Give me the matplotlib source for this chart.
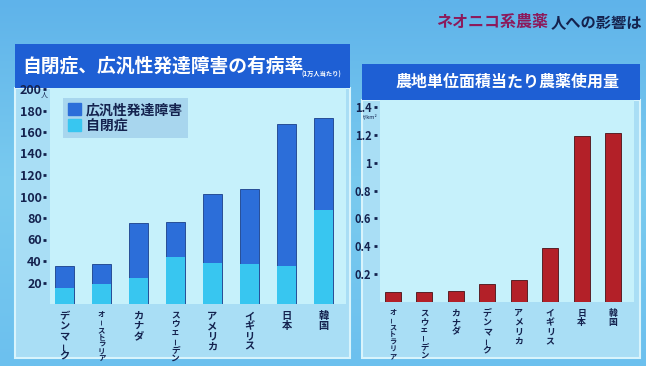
#Recreate the TV chart: autism prevalence vs pesticide use per farmland area
import numpy as np
import matplotlib.pyplot as plt
from matplotlib.patches import Rectangle, Patch
from matplotlib.colors import LinearSegmentedColormap

plt.rcParams['font.family'] = ['Noto Sans CJK JP', 'DejaVu Sans']

# left chart: prevalence per 10,000 people
countries_l = ["デンマーク", "オーストラリア", "カナダ", "スウェーデン", "アメリカ", "イギリス", "日本", "韓国"]
pdd_total = [35, 37, 75, 76, 102, 107, 167, 173]
autism = [15, 19, 24, 44, 38, 37, 35, 87]
yticks_l = [20, 40, 60, 80, 100, 120, 140, 160, 180, 200]

# right chart: pesticide use per farmland area (t/km2)
countries_r = ["オーストラリア", "スウェーデン", "カナダ", "デンマーク", "アメリカ", "イギリス", "日本", "韓国"]
pesticide = [0.07, 0.075, 0.08, 0.13, 0.155, 0.39, 1.19, 1.215]
yticks_r = [0.2, 0.4, 0.6, 0.8, 1.0, 1.2, 1.4]
yticklabels_r = ["0.2", "0.4", "0.6", "0.8", "1", "1.2", "1.4"]

W, H = 646, 366
navy = '#14224e'


def rect(x0, y0, x1, y1):
    # pixel box (top-left origin) -> figure fraction
    return [x0 / W, 1 - y1 / H, (x1 - x0) / W, (y1 - y0) / H]


def vlabels(ax, labels, maxstep, room, maxsize):
    # japanese vertical writing, one char per step, long vowel mark turned upright
    ax.set_xticks(range(len(labels)))
    ax.set_xticklabels([])
    for i, lab in enumerate(labels):
        step = min(maxstep, room / len(lab))
        fs = min(maxsize, step * 0.72 * 1.0)
        for j, ch in enumerate(lab):
            ax.annotate(ch, xy=(i, 0), xycoords=('data', 'axes fraction'),
                        xytext=(0, -(7 + step * (j + 0.5)) * 0.72), textcoords='offset points',
                        ha='center', va='center', rotation=90 if ch == "ー" else 0,
                        fontsize=fs * (0.8 if ch == "ー" else 1), fontweight='bold', color=navy)


fig = plt.figure(figsize=(6.46, 3.66), dpi=100)

# gradient backdrop
bg = fig.add_axes([0, 0, 1, 1], zorder=-10)
grad = np.linspace(0, 1, 256).reshape(-1, 1) * np.ones((1, 4))
cmap = LinearSegmentedColormap.from_list('bg', ['#5fb3ea', '#7acbef', '#6cc0ee'])
bg.imshow(grad, extent=[0, 1, 0, 1], aspect='auto', cmap=cmap)
bg.set_xlim(0, 1)
bg.set_ylim(0, 1)
bg.axis('off')


def box(x0, y0, x1, y1, color, z=-5, **kw):
    r = rect(x0, y0, x1, y1)
    fig.patches.append(Rectangle((r[0], r[1]), r[2], r[3], transform=fig.transFigure,
                                 facecolor=color, zorder=z, **kw))


# left panel
box(15, 88, 350, 358, '#a9def5', edgecolor='#d8f4fc', linewidth=1.5)
box(50, 88, 346, 304, '#c6f1fb')
box(15, 44, 350, 88, '#1e5fd4')
fig.text(22 / W, 1 - 66 / H, "自閉症、広汎性発達障害の有病率", color='white', fontsize=13.5,
         fontweight='bold', va='center', ha='left')
fig.text(302 / W, 1 - 74 / H, "(1万人当たり)", color='white', fontsize=4.5,
         fontweight='bold', va='center', ha='left')

# right panel
box(362, 100, 640, 358, '#a9def5', edgecolor='#d8f4fc', linewidth=1.5)
box(380, 100, 634, 302, '#c6f1fb')
box(362, 64, 640, 100, '#1e5fd4')
fig.text(507 / W, 1 - 82 / H, "農地単位面積当たり農薬使用量", color='white', fontsize=11.5,
         fontweight='bold', va='center', ha='center')

# top right headline
fig.text(436 / W, 1 - 22 / H, "ネオニコ系農薬", color='#8c1a5c', fontsize=11.5,
         fontweight='bold', va='center', ha='left')
fig.text(551 / W, 1 - 23 / H, "人への影響は", color=navy, fontsize=11,
         fontweight='bold', va='center', ha='left')

# left chart
ax1 = fig.add_axes(rect(46, 89, 342, 304))
x = np.arange(len(countries_l))
ax1.bar(x, pdd_total, width=0.52, color='#2c6ed9', edgecolor='#1a3f8a', linewidth=0.6)
ax1.bar(x, autism, width=0.52, color='#38c6f0', edgecolor='none')
ax1.set_xlim(-0.5, 7.5)
ax1.set_ylim(0, 200)
ax1.set_yticks(yticks_l)
vlabels(ax1, countries_l, 10.2, 52, 7.4)
for s in ax1.spines.values():
    s.set_visible(False)
ax1.set_facecolor('none')
ax1.tick_params(axis='x', length=0)
ax1.tick_params(axis='y', length=2, width=2, color=navy, pad=1, labelsize=9, labelcolor=navy)
for t in ax1.get_yticklabels():
    t.set_fontweight('bold')
fig.text(44 / W, 1 - 96 / H, "人", color=navy, fontsize=5, ha='center', va='center')

leg = ax1.legend(handles=[Patch(color='#2c6ed9', label='広汎性発達障害'),
                          Patch(color='#38c6f0', label='自閉症')],
                 loc='upper left', bbox_to_anchor=(0.035, 0.99), fontsize=10,
                 handlelength=0.9, handleheight=0.9, handletextpad=0.4, labelspacing=0.15,
                 borderpad=0.35, fancybox=False, facecolor='#a8d6ee', edgecolor='none',
                 framealpha=1)
for t in leg.get_texts():
    t.set_color(navy)
    t.set_fontweight('bold')

# right chart
ax2 = fig.add_axes(rect(377, 107, 629, 302))
x2 = np.arange(len(countries_r))
ax2.bar(x2, pesticide, width=0.52, color='#b32028', edgecolor='#4a1015', linewidth=0.6)
ax2.set_xlim(-0.5, 7.5)
ax2.set_ylim(0, 1.4)
ax2.set_yticks(yticks_r)
ax2.set_yticklabels(yticklabels_r)
vlabels(ax2, countries_r, 9.2, 50, 6.4)
for s in ax2.spines.values():
    s.set_visible(False)
ax2.set_facecolor('none')
ax2.tick_params(axis='x', length=0)
ax2.tick_params(axis='y', length=2, width=2, color=navy, pad=2, labelsize=8, labelcolor=navy)
for t in ax2.get_yticklabels():
    t.set_fontweight('bold')
fig.text(370 / W, 1 - 117 / H, "t/km²", color=navy, fontsize=4, ha='center', va='center')

plt.savefig('out.png', dpi=100)
